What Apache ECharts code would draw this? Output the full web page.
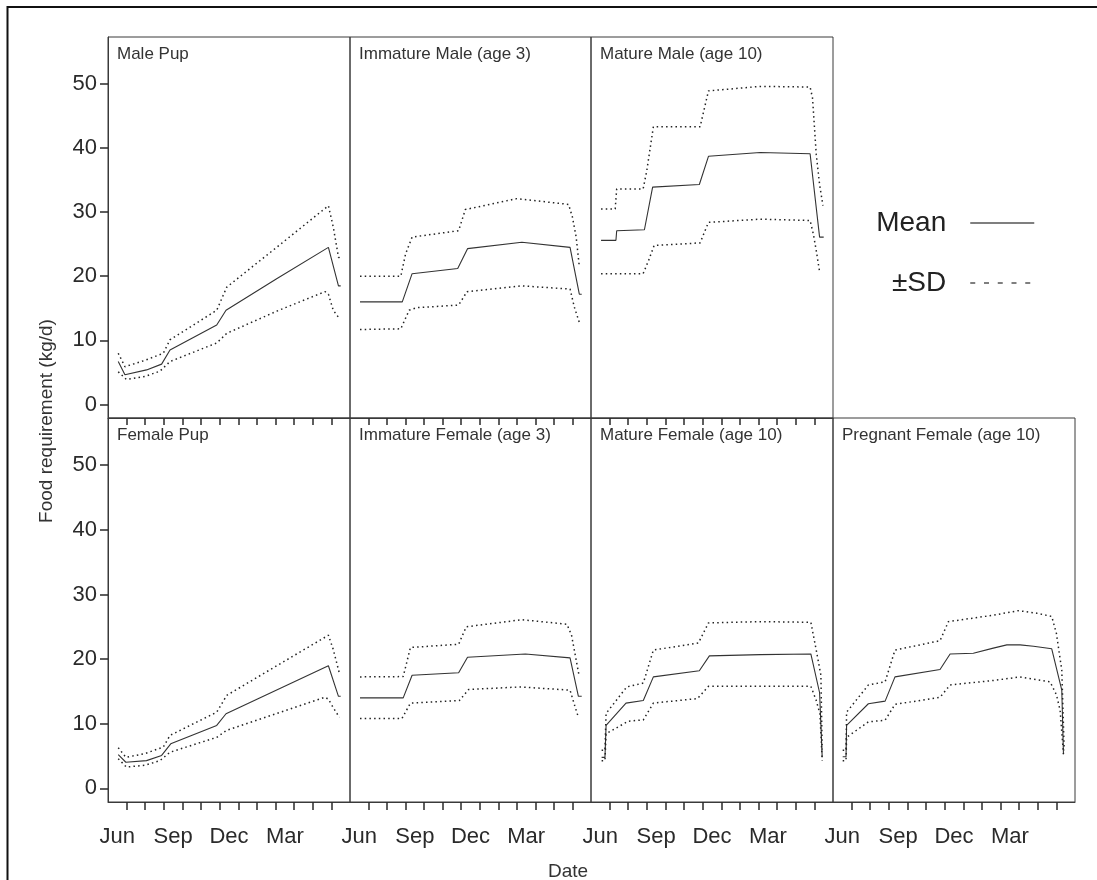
<!DOCTYPE html>
<html>
<head>
<meta charset="utf-8">
<title>Food requirement</title>
<script src="https://cdn.jsdelivr.net/npm/echarts@6/dist/echarts.min.js"></script>
<style>
  html, body { margin: 0; padding: 0; background: #fff; }
  #chart { width: 1097px; height: 880px; }
</style>
</head>
<body>
<div id="chart"></div>
<script>
// x is in months, 0 = start of June, ticks at 1..12
const monthLabels = ['Jun', 'Sep', 'Dec', 'Mar'];
const monthLabelPos = [0.5, 3.5, 6.5, 9.5];
const monthTicks = [1, 2, 3, 4, 5, 6, 7, 8, 9, 10, 11, 12];
const yTicks = [0, 10, 20, 30, 40, 50];

const panelTitles = [
  'Male Pup', 'Immature Male (age 3)', 'Mature Male (age 10)',
  'Female Pup', 'Immature Female (age 3)', 'Mature Female (age 10)', 'Pregnant Female (age 10)'
];

// Male Pup
const malePupMean = [[0.55,6.7],[0.91,4.65],[2.07,5.4],[2.88,6.3],[3.33,8.5],[5.84,12.4],[6.34,14.7],[9.06,19.6],[11.84,24.5],[12.38,18.5],[12.5,18.5]];
const malePupUpper = [[0.55,8.0],[0.91,5.9],[2.0,6.9],[2.97,8.0],[3.33,10.1],[5.84,14.7],[6.38,18.3],[9.1,24.6],[11.84,31.0],[12.1,27.7],[12.38,23.0],[12.45,22.8]];
const malePupLower = [[0.55,5.1],[0.99,3.9],[2.0,4.4],[2.79,5.2],[3.33,6.7],[5.84,9.6],[6.38,11.1],[9.1,14.6],[11.66,17.6],[11.84,17.2],[12.1,14.7],[12.43,13.4]];

// Immature Male (age 3)
const immMaleMean = [[0.54,16.0],[2.82,16.0],[3.35,20.4],[5.81,21.2],[6.34,24.3],[9.27,25.3],[11.87,24.5],[12.37,17.2],[12.5,17.2]];
const immMaleUpper = [[0.54,20.0],[2.74,20.0],[3.0,23.5],[3.35,26.1],[5.86,27.1],[6.22,30.4],[9.0,32.1],[11.79,31.2],[12.0,29.2],[12.2,26.1],[12.37,21.5]];
const immMaleLower = [[0.54,11.7],[2.74,11.8],[3.19,14.7],[3.6,15.1],[5.86,15.5],[6.31,17.6],[9.27,18.5],[11.87,18.0],[12.1,15.2],[12.37,12.8]];

// Mature Male (age 10)
const matMaleMean = [[0.54,25.6],[1.34,25.6],[1.38,27.1],[2.87,27.25],[3.31,33.9],[5.82,34.3],[6.31,38.7],[9.09,39.3],[11.77,39.1],[12.28,26.1],[12.5,26.1]];
const matMaleUpper = [[0.54,30.5],[1.3,30.5],[1.38,33.6],[2.8,33.6],[3.0,36.5],[3.35,43.3],[5.86,43.3],[6.31,48.9],[9.09,49.6],[11.77,49.5],[11.9,47.8],[12.1,39.0],[12.28,34.3],[12.46,31.0]];
const matMaleLower = [[0.54,20.4],[2.8,20.4],[3.1,22.5],[3.39,24.8],[5.86,25.2],[6.31,28.4],[9.09,28.9],[11.77,28.7],[11.95,26.5],[12.1,24.0],[12.28,20.7]];

// Female Pup
const femPupMean = [[0.55,5.24],[0.96,4.05],[2.07,4.3],[2.88,5.1],[3.37,6.9],[5.84,9.75],[6.34,11.55],[11.84,18.97],[12.38,14.25],[12.5,14.25]];
const femPupUpper = [[0.55,6.3],[0.96,4.8],[2.0,5.4],[2.97,6.4],[3.33,8.2],[5.84,11.8],[6.38,14.4],[11.84,23.7],[12.1,21.5],[12.43,17.8]];
const femPupLower = [[0.55,4.6],[0.99,3.3],[2.0,3.6],[2.79,4.3],[3.33,5.6],[5.84,7.9],[6.38,9.0],[11.66,14.1],[11.84,13.8],[12.1,12.5],[12.43,11.0]];

// Immature Female (age 3)
const immFemMean = [[0.54,14.0],[2.87,14.0],[3.35,17.5],[5.86,17.9],[6.34,20.3],[9.46,20.8],[11.87,20.2],[12.32,14.25],[12.5,14.25]];
const immFemUpper = [[0.54,17.25],[2.87,17.3],[3.26,21.8],[5.86,22.3],[6.27,25.0],[9.27,26.1],[11.7,25.4],[11.95,23.7],[12.37,17.25]];
const immFemLower = [[0.54,10.8],[2.8,10.8],[3.26,13.2],[5.9,13.6],[6.4,15.3],[9.18,15.7],[11.87,15.2],[12.1,13.0],[12.32,11.0]];

// Mature Female (age 10)
const matFemMean = [[0.57,4.8],[0.75,4.8],[0.81,9.75],[1.88,13.2],[2.81,13.6],[3.35,17.25],[5.82,18.2],[6.36,20.5],[9.09,20.7],[11.81,20.8],[12.28,14.8],[12.38,14.6],[12.42,4.8]];
const matFemUpper = [[0.57,5.9],[0.75,5.9],[0.81,11.6],[1.92,15.7],[2.81,16.3],[3.35,21.4],[5.77,22.5],[6.31,25.6],[9.09,25.8],[11.81,25.7],[12.1,21.4],[12.35,17.5],[12.42,6.0]];
const matFemLower = [[0.57,4.3],[0.75,4.3],[0.81,8.45],[2.0,10.4],[2.81,10.6],[3.35,13.2],[5.72,13.9],[6.31,15.8],[11.81,15.8],[12.1,13.6],[12.3,11.5],[12.42,4.3]];

// Pregnant Female (age 10)
const pregFemMean = [[0.52,4.9],[0.7,4.9],[0.73,9.75],[1.9,13.1],[2.8,13.5],[3.33,17.25],[5.75,18.4],[6.29,20.8],[7.54,20.9],[8.61,21.7],[9.34,22.2],[10.05,22.2],[10.77,22.0],[11.75,21.6],[12.29,15.2],[12.38,5.3]];
const pregFemUpper = [[0.52,5.9],[0.7,5.9],[0.73,11.8],[1.9,16.0],[2.8,16.5],[3.33,21.4],[5.75,22.85],[6.2,25.8],[8.61,26.8],[9.96,27.5],[10.95,27.1],[11.75,26.6],[12.0,24.0],[12.29,18.3],[12.42,5.9]];
const pregFemLower = [[0.52,4.3],[0.7,4.3],[0.73,7.9],[1.9,10.3],[2.8,10.55],[3.33,13.0],[5.75,14.1],[6.29,16.0],[8.61,16.7],[10.05,17.25],[11.66,16.5],[12.0,14.5],[12.2,12.1],[12.38,5.3]];

const panelMeans = [malePupMean, immMaleMean, matMaleMean, femPupMean, immFemMean, matFemMean, pregFemMean];
const panelUppers = [malePupUpper, immMaleUpper, matMaleUpper, femPupUpper, immFemUpper, matFemUpper, pregFemUpper];
const panelLowers = [malePupLower, immMaleLower, matMaleLower, femPupLower, immFemLower, matFemLower, pregFemLower];

// panel layout: [left, top, width, height, showYLabels, showXLabels]
const layout = [
  [108, 37, 242, 381, true, false],
  [350, 37, 241, 381, false, false],
  [591, 37, 242, 381, false, false],
  [108, 418, 242, 384, true, true],
  [350, 418, 241, 384, false, true],
  [591, 418, 242, 384, false, true],
  [833, 418, 242, 384, false, true]
];

const chart = echarts.init(document.getElementById('chart'), null, { renderer: 'canvas' });

const ink = '#2a2a2a';
const grids = [], xAxes = [], yAxes = [], titles = [], series = [];

layout.forEach((p, i) => {
  const [left, top, width, height, yLab, xLab] = p;
  grids.push({
    left: left, top: top, width: width, height: height,
    show: true, borderColor: '#3a3a3a', borderWidth: 1, backgroundColor: 'transparent'
  });
  xAxes.push({
    type: 'value', gridIndex: i, min: 0, max: 13,
    axisLine: { show: true, onZero: false, lineStyle: { color: '#3a3a3a', width: 1 } },
    axisTick: { show: true, inside: false, length: xLab ? 8 : 7, customValues: monthTicks, lineStyle: { color: ink, width: 1.5 } },
    axisLabel: {
      show: xLab, customValues: monthLabelPos, margin: 24,
      fontSize: 22, color: ink,
      formatter: v => monthLabels[monthLabelPos.indexOf(v)] || ''
    },
    splitLine: { show: false }
  });
  yAxes.push({
    type: 'value', gridIndex: i, min: -2.1, max: 57.3,
    axisLine: { show: yLab, lineStyle: { color: '#3a3a3a', width: 1 } },
    axisTick: { show: yLab, inside: false, length: 8, customValues: yTicks, lineStyle: { color: ink, width: 1.5 } },
    axisLabel: { show: yLab, customValues: yTicks, margin: 11, fontSize: 22, color: ink },
    splitLine: { show: false }
  });
  titles.push({
    text: panelTitles[i], left: left + 9, top: top + 9, padding: 0,
    textStyle: { fontSize: 17, fontWeight: 'normal', color: '#333', fontFamily: 'Liberation Sans' }
  });
  series.push({
    type: 'line', name: 'Mean', xAxisIndex: i, yAxisIndex: i, data: panelMeans[i],
    symbol: 'none', silent: true, color: '#333',
    lineStyle: { color: '#333', width: 1.1 }
  });
  [panelUppers[i], panelLowers[i]].forEach(d => {
    series.push({
      type: 'line', name: '±SD', xAxisIndex: i, yAxisIndex: i, data: d,
      symbol: 'none', silent: true, color: '#222',
      lineStyle: { color: '#222', width: 1.5, type: [1.5, 3.2] }
    });
  });
});

const option = {
  animation: false,
  backgroundColor: '#fff',
  textStyle: { fontFamily: 'Liberation Sans' },
  title: titles,
  grid: grids,
  xAxis: xAxes,
  yAxis: yAxes,
  legend: {
    orient: 'vertical', align: 'right', right: 57, top: 203,
    itemWidth: 64, itemHeight: 14, itemGap: 30, selectedMode: false,
    textStyle: { fontSize: 28, color: '#222', lineHeight: 30, padding: [0, 19, 0, 0] },
    data: [
      { name: 'Mean', itemStyle: { color: 'transparent', borderWidth: 0, opacity: 0 }, lineStyle: { color: '#555', width: 1.5, type: 'solid' } },
      { name: '±SD', itemStyle: { color: 'transparent', borderWidth: 0, opacity: 0 }, lineStyle: { color: '#555', width: 1.3, type: [5, 8.75] } }
    ]
  },
  graphic: [
    { type: 'line', shape: { x1: 7, y1: 7, x2: 1097, y2: 7 }, style: { stroke: '#111', lineWidth: 2 } },
    { type: 'line', shape: { x1: 7.5, y1: 6, x2: 7.5, y2: 880 }, style: { stroke: '#111', lineWidth: 2 } },
    {
      type: 'text', x: 47, y: 421, rotation: Math.PI / 2,
      style: { text: 'Food requirement (kg/d)', fontSize: 19, fill: '#333', align: 'center', verticalAlign: 'middle', fontFamily: 'Liberation Sans' }
    },
    {
      type: 'text', x: 568, y: 872,
      style: { text: 'Date', fontSize: 19, fill: '#333', align: 'center', verticalAlign: 'middle', fontFamily: 'Liberation Sans' }
    }
  ],
  series: series
};

chart.setOption(option);
</script>
</body>
</html>
